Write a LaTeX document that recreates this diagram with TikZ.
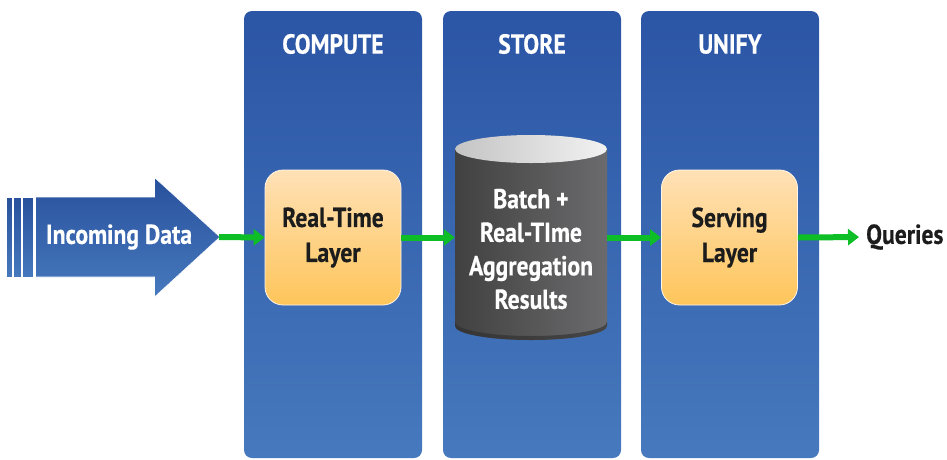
\documentclass[tikz,border=0pt]{standalone}
\usepackage{fontspec}
\setmainfont{PT Sans}[FakeStretch=0.86, BoldFeatures={FakeBold=0.4}]
\usetikzlibrary{arrows.meta}

\definecolor{colTop}{HTML}{2B55A5}
\definecolor{colBot}{HTML}{4679BD}
\definecolor{boxTop}{HTML}{FFE1B6}
\definecolor{boxBot}{HTML}{FEC55A}
\definecolor{flow}{HTML}{0DBE26}
\definecolor{ink}{HTML}{1C1C1C}
\definecolor{drumDark}{HTML}{414141}
\definecolor{drumMid}{HTML}{6B6B6D}
\definecolor{lidLeft}{HTML}{C4C4C4}
\definecolor{lidRight}{HTML}{F2F2F2}

\tikzset{
  column/.style={rounded corners=8pt, top color=colTop, bottom color=colBot,
    minimum width=178pt, minimum height=447pt, inner sep=0pt},
  label font/.style={font=\fontsize{27.5}{34}\selectfont\bfseries},
  header/.style={text=white, label font},
  layerbox/.style={rounded corners=18pt, top color=boxTop, bottom color=boxBot,
    draw=white!70!boxTop, line width=0.8pt,
    minimum width=136pt, minimum height=135pt, align=center, text=ink,
    font=\fontsize{27.5}{35}\selectfont\bfseries},
  flowarrow/.style={draw=flow, line width=6pt,
    -{Triangle[length=11pt,width=16pt]}},
  bigarrow/.style={top color=colTop!95!black, bottom color=colBot, draw=white, line width=0.6pt},
}

\begin{document}
\begin{tikzpicture}[x=1pt,y=-1pt]
\useasboundingbox (0,0) rectangle (947,459);

% three stage columns
\node[column] (colcompute) at (333,234.5) {};
\node[column] (colstore)   at (532,234.5) {};
\node[column] (colunify)   at (730,234.5) {};

\node[header] (hcompute) at (333,44) {COMPUTE};
\node[header] (hstore)   at (532,44) {STORE};
\node[header] (hunify)   at (730,44) {UNIFY};

% incoming data arrow with its trailing stripes
\shade[bigarrow] (6.7,197) rectangle (11.8,277);
\shade[bigarrow] (13.3,197) rectangle (20.8,277);
\shade[bigarrow] (22.7,197) rectangle (33.5,277);
\shade[bigarrow] (35.5,197) -- (154.5,197) -- (154.5,177.5) -- (220,237)
  -- (154.5,297) -- (154.5,277) -- (35.5,277) -- cycle;
\node[text=white, label font] (incoming) at (119,237) {Incoming Data};
\coordinate (intip) at (219,237);

% real-time layer
\node[layerbox] (realtime) at (333,237.5) {Real-Time\\Layer};

% storage drum
\shade[left color=drumDark, right color=drumMid]
  (455,149) -- (455,326) arc[start angle=180, end angle=360, x radius=76pt, y radius=14pt]
  -- (607,149) -- cycle;
\fill[drumDark!70!black, opacity=0.6]
  (455,322) arc[start angle=180, end angle=360, x radius=76pt, y radius=14pt]
  -- (607,326) arc[start angle=0, end angle=-180, x radius=76pt, y radius=14pt] -- cycle;
\shade[left color=lidLeft, right color=lidRight] (531,149) ellipse[x radius=76pt, y radius=14pt];
\node[text=white, align=center, font=\fontsize{27.5}{33.5}\selectfont\bfseries,
  minimum width=152pt, minimum height=205pt] (drum) at (531,249) {Batch +\\Real-TIme\\Aggregation\\Results};

% serving layer
\node[layerbox] (serving) at (729.5,237.5) {Serving\\Layer};

\node[text=ink, anchor=west, inner sep=0pt, label font] (queries) at (866,237) {Queries};

% data flow
\draw[flowarrow] (intip) -- (realtime.west);
\draw[flowarrow] (realtime.east) -- (realtime.east -| drum.west);
\draw[flowarrow] (realtime.east -| drum.east) -- (serving.west);
\draw[flowarrow, shorten >=7pt] (serving.east) -- (queries.west);
\end{tikzpicture}
\end{document}
